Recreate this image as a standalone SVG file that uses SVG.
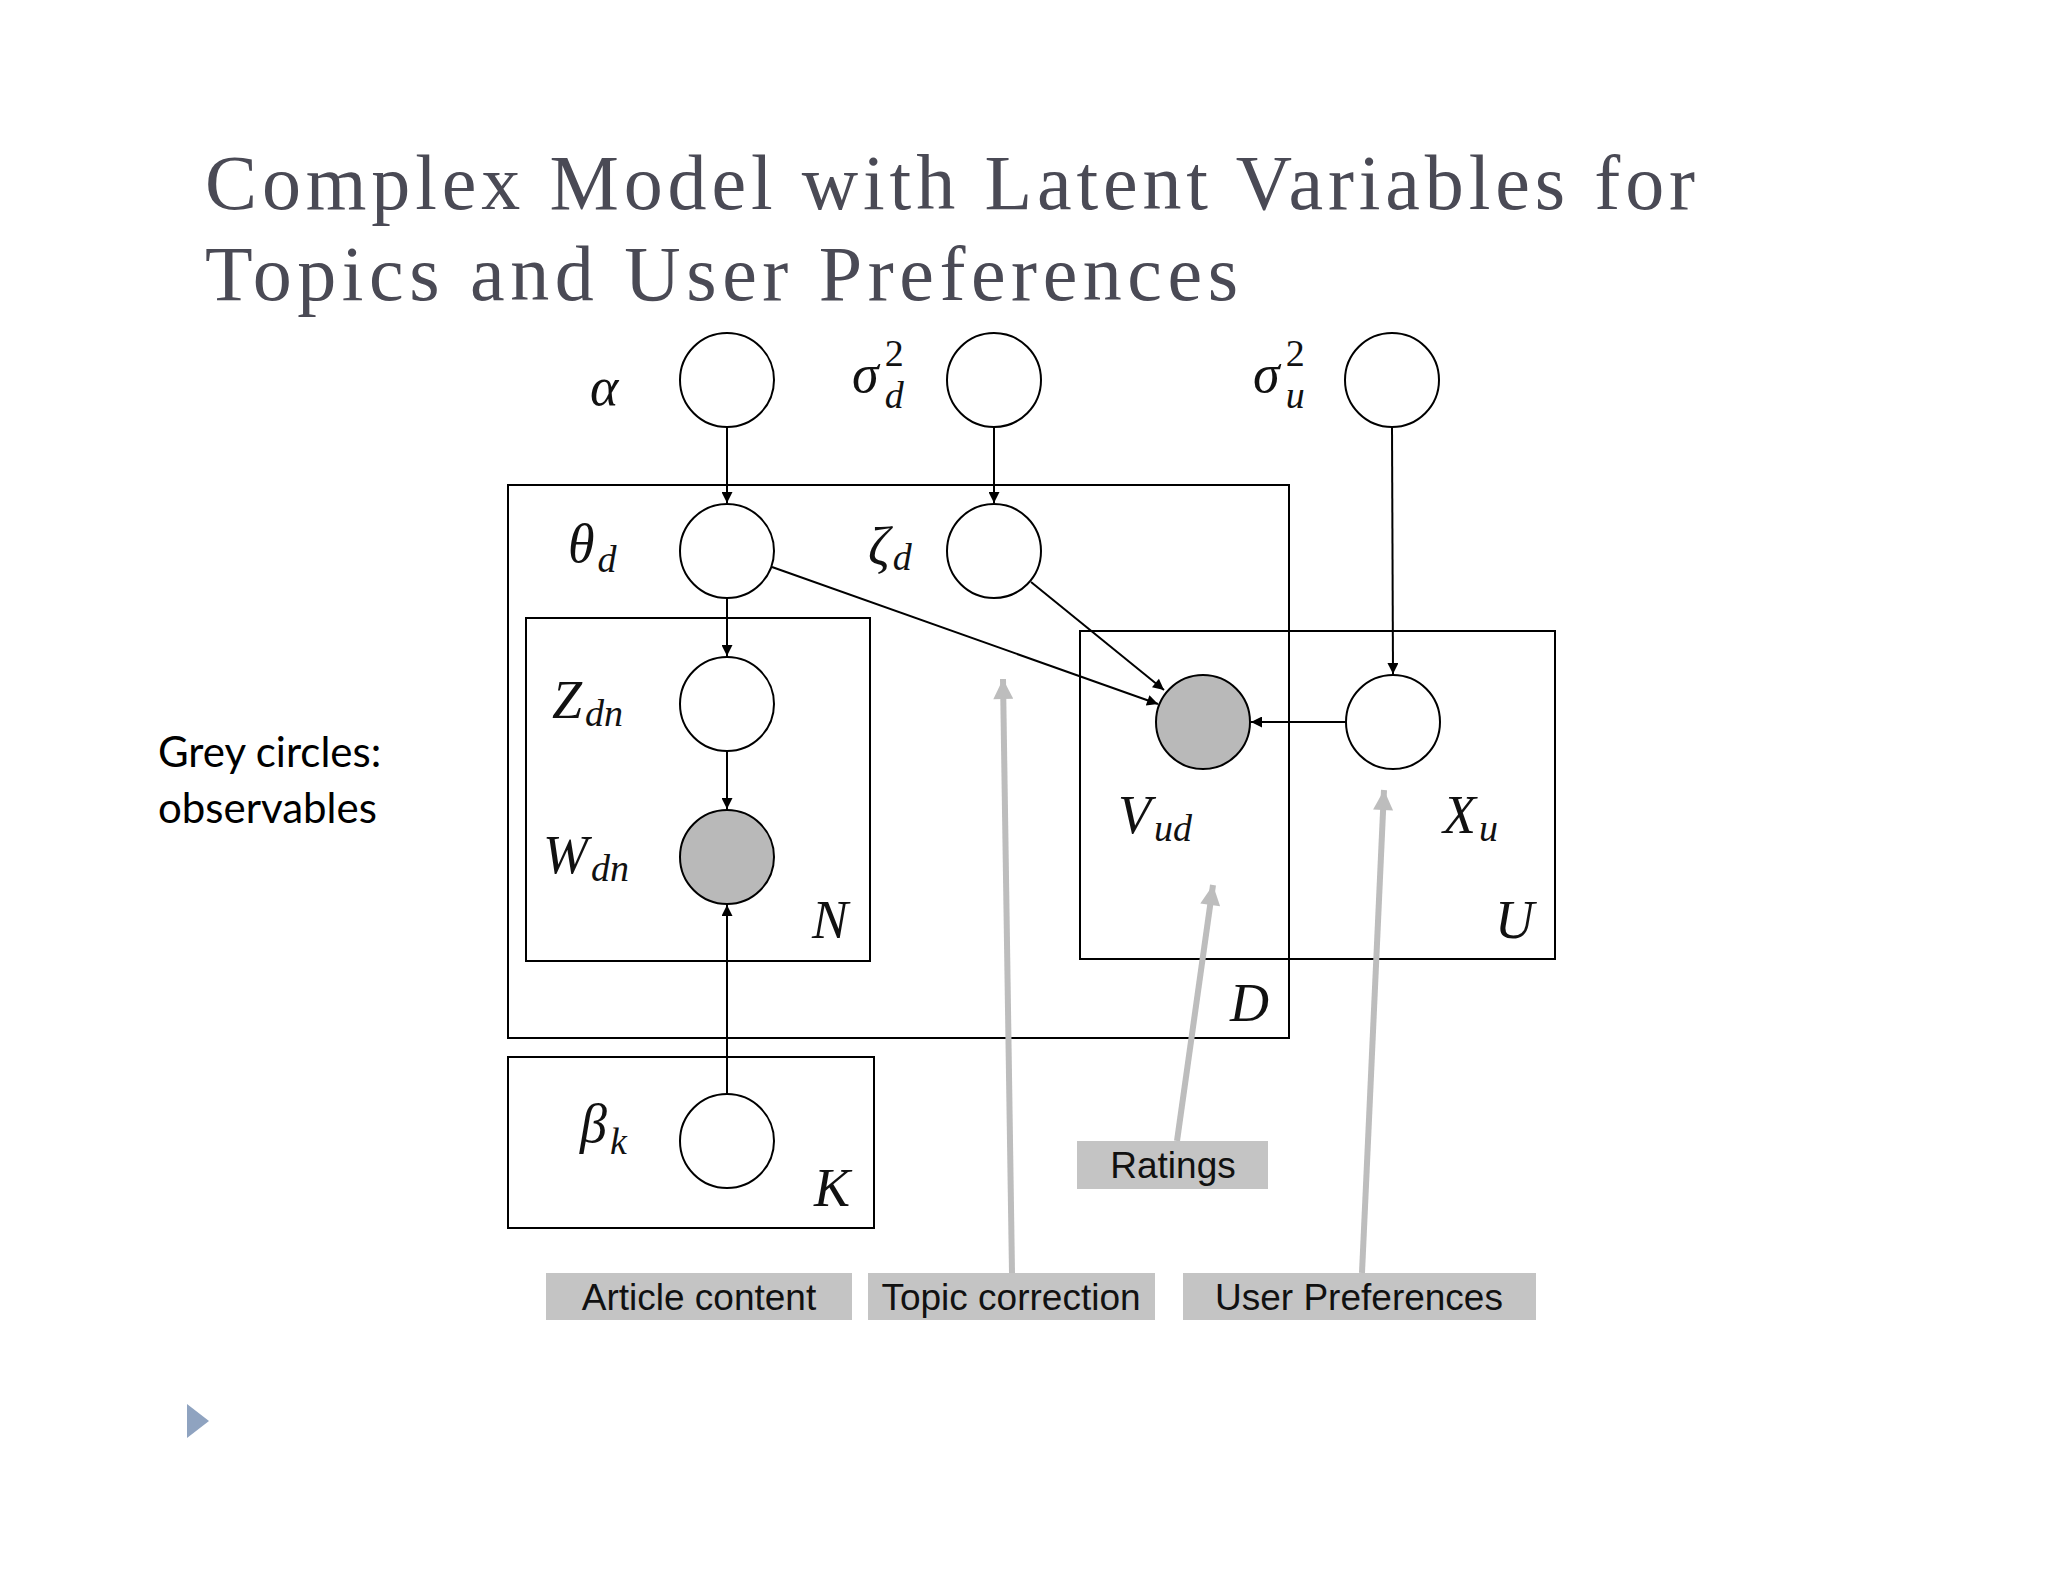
<svg xmlns="http://www.w3.org/2000/svg" width="2048" height="1582" viewBox="0 0 2048 1582">
<style>
.n{fill:#fff;stroke:#000;stroke-width:2}
.g{fill:#b9b9b9;stroke:#000;stroke-width:2}
.p{fill:none;stroke:#000;stroke-width:2}
.m{font-family:"Liberation Serif",serif;font-style:italic;font-size:54px;fill:#111}
.s{font-size:38px}
.e{stroke:#000;stroke-width:2;fill:none;marker-end:url(#a)}
.ga{stroke:#bdbdbd;stroke-width:6;fill:none;marker-end:url(#b)}
.lb{fill:#c4c4c4}
.lt{font-family:"Liberation Sans",sans-serif;font-size:37px;fill:#111;text-anchor:middle}
</style>
<defs>
<marker id="a" viewBox="0 0 10 10" refX="10" refY="5" markerWidth="13" markerHeight="11" markerUnits="userSpaceOnUse" orient="auto"><path d="M0,0L10,5L0,10z" fill="#000"/></marker>
<marker id="b" viewBox="0 0 10 10" refX="10" refY="5" markerWidth="28" markerHeight="20" markerUnits="userSpaceOnUse" orient="auto"><path d="M0,0L10,5L0,10z" fill="#bdbdbd"/></marker>
</defs>
<rect width="2048" height="1582" fill="#fff"/>
<g id="title" font-family="Liberation Serif,serif" font-size="78" fill="#4a4a55">
<text x="205" y="209" textLength="1490" lengthAdjust="spacing">Complex Model with Latent Variables for</text>
<text x="205" y="300" textLength="1033" lengthAdjust="spacing">Topics and User Preferences</text>
</g>
<g id="note" font-family="Lato,sans-serif" font-size="42" fill="#000">
<text x="158" y="767">Grey circles:</text>
<text x="158" y="823">observables</text>
</g>
<polygon points="187,1404 209,1421 187,1438" fill="#8fa3c0"/>
<g id="plates">
<rect class="p" x="508" y="485" width="781" height="553"/>
<rect class="p" x="526" y="618" width="344" height="343"/>
<rect class="p" x="1080" y="631" width="475" height="328"/>
<rect class="p" x="508" y="1057" width="366" height="171"/>
<text class="m" x="812" y="938">N</text>
<text class="m" x="1495" y="938">U</text>
<text class="m" x="1230" y="1021">D</text>
<text class="m" x="814" y="1206">K</text>
</g>
<g id="connectors">
<line class="e" x1="727" y1="427" x2="727" y2="503"/>
<line class="e" x1="994" y1="427" x2="994" y2="503"/>
<line class="e" x1="1392" y1="427" x2="1393" y2="674"/>
<line class="e" x1="727" y1="598" x2="727" y2="656"/>
<line class="e" x1="727" y1="751" x2="727" y2="809"/>
<line class="e" x1="727" y1="1094" x2="727" y2="905"/>
<line class="e" x1="772" y1="567" x2="1158" y2="704"/>
<line class="e" x1="1031" y1="582" x2="1164" y2="690"/>
<line class="e" x1="1346" y1="722" x2="1251" y2="722"/>
</g>
<g id="alpha"><circle class="n" cx="727" cy="380" r="47"/><text class="m" x="590" y="405">α</text></g>
<g id="sigma_d"><circle class="n" cx="994" cy="380" r="47"/><text class="m" x="852" y="392">σ<tspan class="s" dx="6" dy="-26" font-style="normal">2</tspan><tspan class="s" dx="-19" dy="42">d</tspan></text></g>
<g id="sigma_u"><circle class="n" cx="1392" cy="380" r="47"/><text class="m" x="1253" y="392">σ<tspan class="s" dx="6" dy="-26" font-style="normal">2</tspan><tspan class="s" dx="-19" dy="42">u</tspan></text></g>
<g id="theta"><circle class="n" cx="727" cy="551" r="47"/><text class="m" x="568" y="562">θ<tspan class="s" dx="3" dy="10">d</tspan></text></g>
<g id="zeta"><circle class="n" cx="994" cy="551" r="47"/><text class="m" x="868" y="565">ζ<tspan class="s" dx="3" dy="5">d</tspan></text></g>
<g id="Z"><circle class="n" cx="727" cy="704" r="47"/><text class="m" x="552" y="718">Z<tspan class="s" dx="3" dy="8">dn</tspan></text></g>
<g id="W"><circle class="g" cx="727" cy="857" r="47"/><text class="m" x="543" y="873">W<tspan class="s" dx="3" dy="8">dn</tspan></text></g>
<g id="V"><circle class="g" cx="1203" cy="722" r="47"/><text class="m" x="1118" y="833">V<tspan class="s" dx="3" dy="8">ud</tspan></text></g>
<g id="X"><circle class="n" cx="1393" cy="722" r="47"/><text class="m" x="1443" y="833">X<tspan class="s" dx="3" dy="8">u</tspan></text></g>
<g id="beta"><circle class="n" cx="727" cy="1141" r="47"/><text class="m" x="580" y="1142">β<tspan class="s" dx="3" dy="12">k</tspan></text></g>
<g id="annotations">
<line class="ga" x1="1012" y1="1273" x2="1003" y2="679"/>
<line class="ga" x1="1177" y1="1141" x2="1213" y2="885"/>
<line class="ga" x1="1362" y1="1273" x2="1384" y2="790"/>
<rect class="lb" x="546" y="1273" width="306" height="47"/>
<rect class="lb" x="868" y="1273" width="287" height="47"/>
<rect class="lb" x="1183" y="1273" width="353" height="47"/>
<rect class="lb" x="1077" y="1141" width="191" height="48"/>
<text class="lt" x="699" y="1310">Article content</text>
<text class="lt" x="1011" y="1310">Topic correction</text>
<text class="lt" x="1359" y="1310">User Preferences</text>
<text class="lt" x="1173" y="1178">Ratings</text>
</g>
</svg>
